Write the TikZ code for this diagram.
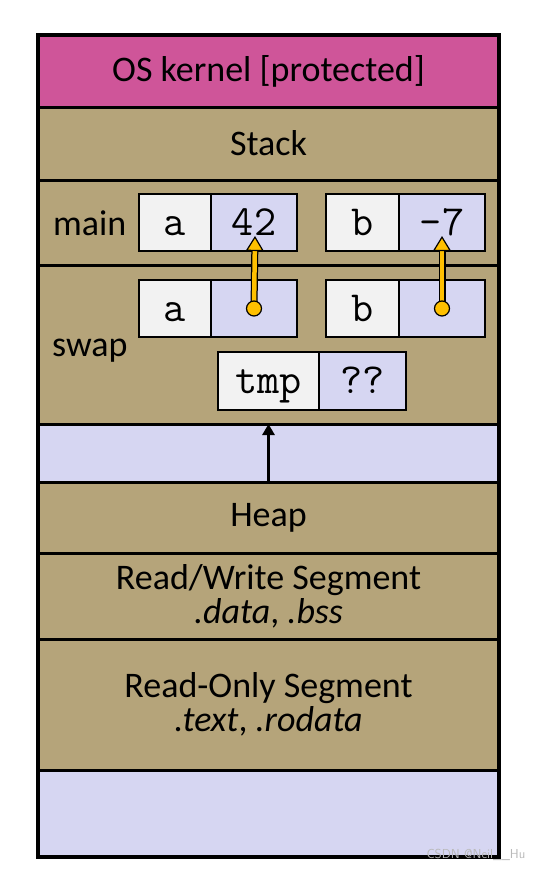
\documentclass[tikz,border=0pt]{standalone}
\usepackage{fontspec}
\setmainfont{Carlito}
\usepackage{xcolor}
\usetikzlibrary{arrows.meta,positioning}

\definecolor{kernelpink}{HTML}{CF5599}
\definecolor{segtan}{HTML}{B5A47A}
\definecolor{freeblue}{HTML}{D6D6F2}
\definecolor{namegray}{HTML}{F2F2F2}
\definecolor{ptrgold}{HTML}{FFC000}

\newcommand{\bigtext}{\fontsize{36}{34}\selectfont}

\tikzset{
    segment/.style={draw, line width=3pt, fill=segtan, minimum width=461pt,
        inner sep=0pt, outer sep=0pt, align=center, font=\bigtext},
    namecell/.style={draw, line width=2pt, fill=namegray, minimum height=57pt,
        inner sep=0pt, outer sep=0pt, text height=30pt, text depth=5pt,
        font=\ttfamily\fontsize{43}{43}\selectfont},
    valcell/.style={namecell, fill=freeblue},
    framelabel/.style={anchor=base west, inner sep=0pt, font=\bigtext},
    ptrshaft/.style={line width=7pt, black, shorten >=8pt},
    ptr/.style={line width=4.5pt, ptrgold,
        -{Triangle[length=15pt, width=18pt, color=black, fill=ptrgold, line width=1.2pt]}},
    ptrdot/.style={fill=ptrgold, draw=black, line width=1.2pt},
    growarrow/.style={line width=3.5pt, -{Triangle[length=11pt, width=12pt]}}
}

\begin{document}
\begin{tikzpicture}[x=1pt, y=-1pt]
    \useasboundingbox (0,0) rectangle (543,871);

    % Address space, top to bottom
    \node[segment, fill=kernelpink, minimum height=72pt] (kernel) at (268.5,71) {OS kernel [protected]};
    \node[segment, minimum height=73pt] (stack) at (268.5,143.5) {Stack};
    \node[segment, minimum height=85pt] (mainframe) at (268.5,222.5) {};
    \node[segment, minimum height=159pt] (swapframe) at (268.5,344.5) {};
    \node[segment, fill=freeblue, minimum height=58pt] (gap) at (268.5,453) {};
    \node[segment, minimum height=71pt] (heap) at (268.5,517.5) {Heap};
    \node[segment, minimum height=86pt] (rw) at (268.5,596) {Read/Write Segment\\\textit{.data}, \textit{.bss}};
    \node[segment, minimum height=131pt] (ro) at (268.5,704.5) {Read-Only Segment\\\textit{.text}, \textit{.rodata}};
    \node[segment, fill=freeblue, minimum height=87pt] (bottom) at (268.5,813.5) {};

    % Stack frames
    \node[framelabel] (mainlabel) at (53,235) {main};
    \node[framelabel] (swaplabel) at (52,356) {swap};

    % main's locals
    \node[namecell, minimum width=72pt] (mainA) at (175,222.5) {a};
    \node[valcell, minimum width=86pt, right=0pt of mainA] (mainAval) {42};
    \node[namecell, minimum width=73pt] (mainB) at (362.5,222.5) {b};
    \node[valcell, minimum width=86pt, right=0pt of mainB] (mainBval) {-7};

    % swap's locals
    \node[namecell, minimum width=72pt] (swapA) at (175,308.5) {a};
    \node[valcell, minimum width=86pt, right=0pt of swapA] (swapAval) {};
    \node[namecell, minimum width=73pt] (swapB) at (362.5,308.5) {b};
    \node[valcell, minimum width=86pt, right=0pt of swapB] (swapBval) {};
    \node[namecell, minimum width=101pt, minimum height=58pt] (tmp) at (268.5,381) {tmp};
    \node[valcell, minimum width=87pt, minimum height=58pt, right=0pt of tmp] (tmpval) {??};

    % Pointers into main's frame
    \coordinate (atip) at (255,236);
    \coordinate (btip) at (442,236);
    \draw[ptrshaft] (swapAval.center) -- (atip);
    \draw[ptr] (swapAval.center) -- (atip);
    \draw[ptrshaft] (swapBval.center) -- (btip);
    \draw[ptr] (swapBval.center) -- (btip);
    \filldraw[ptrdot] (swapAval.center) circle (7.5pt);
    \filldraw[ptrdot] (swapBval.center) circle (7.5pt);

    % Stack grows down
    \draw[growarrow] (gap.south) -- (gap.north);

    % Outer border
    \draw[line width=4pt] (38,35) rectangle (499,857);

    \node[text=gray!55, font=\sffamily\fontsize{13}{13}\selectfont, inner sep=0pt] (mark) at (476,855) {CSDN @Neil\_\_Hu};
\end{tikzpicture}
\end{document}
